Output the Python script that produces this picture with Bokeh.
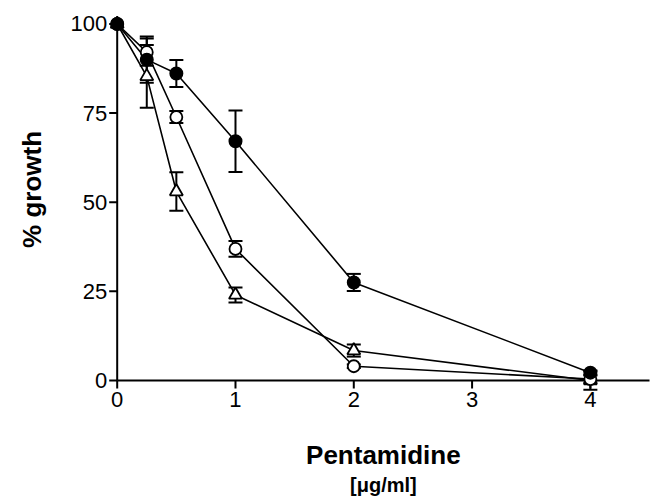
import math
from bokeh.plotting import figure
from bokeh.models import Range1d, Whisker, TeeHead, ColumnDataSource
from bokeh.core.properties import value
from bokeh.embed import file_html
from bokeh.resources import INLINE

# ---- data ----
dose = [0, 0.25, 0.5, 1, 2, 4]
filled_mean = [100, 90.0, 86.1, 67.1, 27.5, 2.2]
filled_err = [0, 6.5, 3.8, 8.6, 2.4, 0.6]
open_mean = [100, 92.1, 73.9, 36.9, 4.0, 0.4]
open_err = [0, 3.8, 1.7, 2.2, 0.5, 1.0]
tri_mean = [100, 85.3, 53.0, 24.0, 8.4, 0.0]
tri_err = [0, 8.8, 5.4, 2.1, 1.7, 2.6]
x_ticks = [0, 1, 2, 3, 4]
y_ticks = [0, 25, 50, 75, 100]
x_axis_max = 4.5
x_title = "Pentamidine"
x_unit = "[\u03bcg/ml]"
y_title = "% growth"

FONT = "Liberation Sans"

# The frame fills the whole canvas; the axes are drawn inside it so that the
# markers at the axis ends are not clipped.
p = figure(width=656, height=496,
           x_range=Range1d(-0.9865, 4.559), y_range=Range1d(-32.54, 106.59),
           output_backend="svg", toolbar_location=None,
           min_border=0)
p.axis.visible = False
p.outline_line_color = None
p.xgrid.visible = False
p.ygrid.visible = False
p.background_fill_color = "white"

# axis lines
p.segment(x0=[0, 0], y0=[0, 0], x1=[0, x_axis_max], y1=[max(y_ticks), 0],
          line_color="black", line_width=2)
# ticks
p.ray(x=[0] * len(y_ticks), y=y_ticks, length=8, length_units="screen",
      angle=math.pi, line_color="black", line_width=2)
p.ray(x=x_ticks, y=[0] * len(x_ticks), length=8, length_units="screen",
      angle=-math.pi / 2, line_color="black", line_width=2)
# tick labels
p.text(x=[0] * len(y_ticks), y=y_ticks, text=[str(t) for t in y_ticks],
       x_offset=-10, text_align="right", text_baseline="middle",
       text_font=value(FONT), text_font_size=value("22px"), text_color="black")
p.text(x=x_ticks, y=[0] * len(x_ticks), text=[str(t) for t in x_ticks],
       y_offset=12, text_align="center", text_baseline="top",
       text_font=value(FONT), text_font_size=value("22px"), text_color="black")
# axis titles
p.text(x=[-0.724], y=[53.6], text=[y_title], angle=math.pi / 2,
       text_align="center", text_baseline="middle", text_font=value(FONT),
       text_font_style="bold", text_font_size=value("26px"), text_color="black")
p.text(x=[2.25], y=[-21.0], text=[x_title],
       text_align="center", text_baseline="middle", text_font=value(FONT),
       text_font_style="bold", text_font_size=value("26px"), text_color="black")
p.text(x=[2.25], y=[-29.3], text=[x_unit],
       text_align="center", text_baseline="middle", text_font=value(FONT),
       text_font_style="bold", text_font_size=value("20px"), text_color="black")


def add_series(mean, err):
    p.line(dose, mean, line_color="black", line_width=1.6)
    idx = [i for i in range(len(dose)) if err[i] > 0]
    src = ColumnDataSource(dict(
        x=[dose[i] for i in idx],
        upper=[mean[i] + err[i] for i in idx],
        lower=[mean[i] - err[i] for i in idx]))
    w = Whisker(source=src, base="x", upper="upper", lower="lower",
                line_color="black", line_width=2,
                upper_head=TeeHead(size=14, line_width=2, line_color="black"),
                lower_head=TeeHead(size=14, line_width=2, line_color="black"))
    p.add_layout(w)


add_series(tri_mean, tri_err)
add_series(open_mean, open_err)
add_series(filled_mean, filled_err)

p.scatter(dose, tri_mean, marker="triangle", size=13, fill_color="white",
          line_color="black", line_width=1.8)
p.scatter(dose, open_mean, marker="circle", size=12, fill_color="white",
          line_color="black", line_width=1.8)
p.scatter(dose, filled_mean, marker="circle", size=12.5, fill_color="black",
          line_color="black", line_width=1.5)

open("out.html", "w").write(file_html(p, INLINE))
